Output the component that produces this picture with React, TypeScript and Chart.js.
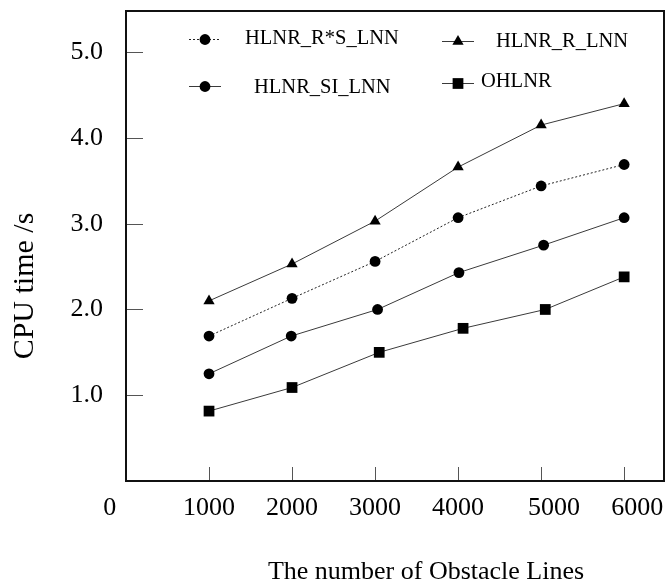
import React, { useEffect, useRef } from 'react';
import { Chart, registerables } from 'chart.js';

Chart.register(...registerables);

const FONT = '"Liberation Serif", "Times New Roman", serif';

// ---- data ----
const seriesNames = ['HLNR_R*S_LNN', 'HLNR_SI_LNN', 'HLNR_R_LNN', 'OHLNR'];

const xRS = [1000, 2000, 3000, 4000, 5000, 6000];
const yRS = [1.69, 2.13, 2.56, 3.07, 3.44, 3.69];

const xSI = [1000, 1990, 3030, 4010, 5030, 6000];
const ySI = [1.25, 1.69, 2.0, 2.43, 2.75, 3.07];

const xR = [1000, 2000, 3000, 4000, 5000, 6000];
const yR = [2.1, 2.53, 3.03, 3.66, 4.15, 4.4];

const xO = [1000, 2000, 3050, 4060, 5050, 6000];
const yO = [0.815, 1.09, 1.5, 1.78, 2.0, 2.38];

const xTickValues = [0, 1000, 2000, 3000, 4000, 5000, 6000];
const xTickLabels = ['0', '1000', '2000', '3000', '4000', '5000', '6000'];
const yTickValues = [1, 2, 3, 4, 5];
const yTickLabels = ['1.0', '2.0', '3.0', '4.0', '5.0'];

const xTitle = 'The number of Obstacle Lines';
const yTitle = 'CPU time /s';

// label nudges (spaces) to mimic the reference's placement
const xLabelPad: Record<string, [number, number]> = {
  '0': [0, 5],
  '5000': [4, 0],
  '6000': [4, 0],
};

const toPoints = (xs: number[], ys: number[]) => xs.map((x, i) => ({ x, y: ys[i] }));

type Marker = 'circle' | 'triangle' | 'rect';

function drawMarker(ctx: CanvasRenderingContext2D, style: Marker, x: number, y: number, r: number) {
  ctx.beginPath();
  if (style === 'circle') {
    ctx.arc(x, y, r, 0, Math.PI * 2);
  } else if (style === 'triangle') {
    for (let k = 0; k < 3; k++) {
      const a = (k * 2 * Math.PI) / 3;
      const px = x + Math.sin(a) * r;
      const py = y - Math.cos(a) * r;
      if (k === 0) ctx.moveTo(px, py);
      else ctx.lineTo(px, py);
    }
    ctx.closePath();
  } else {
    const s = Math.SQRT1_2 * r;
    ctx.rect(x - s, y - s, 2 * s, 2 * s);
  }
  ctx.fillStyle = '#000';
  ctx.fill();
}

const legendLayout = [
  { ds: 0, lx: 189, ly: 39.5, tx: 245, ty: 38.5 },
  { ds: 1, lx: 189, ly: 86.5, tx: 254, ty: 87.5 },
  { ds: 2, lx: 442, ly: 41.5, tx: 496, ty: 42 },
  { ds: 3, lx: 442, ly: 83.5, tx: 481, ty: 81.5 },
];

const framePlugin = {
  id: 'frameAndText',
  afterDraw(chart: any) {
    const { ctx, chartArea: a, scales } = chart;
    const xs = scales.x;
    const ys = scales.y;
    ctx.save();
    // inner ticks
    ctx.strokeStyle = '#555';
    ctx.lineWidth = 1;
    ctx.beginPath();
    yTickValues.forEach((v) => {
      const py = Math.round(ys.getPixelForValue(v)) + 0.5;
      ctx.moveTo(a.left, py);
      ctx.lineTo(a.left + 17, py);
    });
    xTickValues.forEach((v) => {
      if (v === 0) return;
      const px = Math.round(xs.getPixelForValue(v)) + 0.5;
      ctx.moveTo(px, a.bottom);
      ctx.lineTo(px, a.bottom - 14);
    });
    ctx.stroke();
    // frame
    ctx.strokeStyle = '#111';
    ctx.lineWidth = 2;
    ctx.strokeRect(a.left, a.top, a.right - a.left, a.bottom - a.top);

    // axis titles
    ctx.fillStyle = '#000';
    ctx.font = `26px ${FONT}`;
    ctx.textAlign = 'center';
    ctx.textBaseline = 'middle';
    ctx.fillText(xTitle, (a.left + a.right) / 2 + 31, a.bottom + 91);
    ctx.save();
    ctx.font = `30px ${FONT}`;
    ctx.translate(25, (a.top + a.bottom) / 2 + 40);
    ctx.rotate(-Math.PI / 2);
    ctx.fillText(yTitle, 0, 0);
    ctx.restore();

    // legend
    legendLayout.forEach((it) => {
      const ds = chart.data.datasets[it.ds];
      ctx.strokeStyle = ds.borderColor;
      ctx.lineWidth = 1;
      ctx.setLineDash(ds.borderDash || []);
      ctx.beginPath();
      ctx.moveTo(it.lx, it.ly);
      ctx.lineTo(it.lx + 32, it.ly);
      ctx.stroke();
      ctx.setLineDash([]);
      drawMarker(ctx, ds.pointStyle, it.lx + 16, it.ly, ds.pointRadius);
      ctx.fillStyle = '#000';
      ctx.font = `20.5px ${FONT}`;
      ctx.textAlign = 'left';
      ctx.textBaseline = 'middle';
      ctx.fillText(ds.label, it.tx, it.ty);
    });
    ctx.restore();
  },
};

export default function App() {
  const ref = useRef<HTMLCanvasElement | null>(null);

  useEffect(() => {
    if (!ref.current) return;
    const line = '#3a3a3a';
    const common = {
      borderColor: line,
      borderWidth: 1,
      pointBackgroundColor: '#000',
      pointBorderColor: '#000',
      pointBorderWidth: 0,
      fill: false,
      tension: 0,
    };
    const chart = new Chart(ref.current, {
      type: 'line',
      data: {
        datasets: [
          { ...common, label: seriesNames[0], data: toPoints(xRS, yRS), borderDash: [2, 2], borderColor: '#222', pointStyle: 'circle', pointRadius: 5.4 },
          { ...common, label: seriesNames[1], data: toPoints(xSI, ySI), pointStyle: 'circle', pointRadius: 5.4 },
          { ...common, label: seriesNames[2], data: toPoints(xR, yR), pointStyle: 'triangle', pointRadius: 6.5 },
          { ...common, label: seriesNames[3], data: toPoints(xO, yO), pointStyle: 'rect', pointRadius: 7.6 },
        ] as any,
      },
      options: {
        animation: false,
        responsive: false,
        devicePixelRatio: 1,
        layout: { autoPadding: false, padding: { top: 11, right: 3, left: 0, bottom: 0 } },
        plugins: { legend: { display: false }, tooltip: { enabled: false } },
        scales: {
          x: {
            type: 'linear',
            min: 0,
            max: 6480,
            afterBuildTicks: (s: any) => {
              s.ticks = xTickValues.map((value) => ({ value }));
            },
            afterFit: (s: any) => {
              s.height = 106;
              s.paddingLeft = 0;
              s.paddingRight = 0;
              s.paddingTop = 0;
              s.paddingBottom = 0;
            },
            grid: { display: false },
            border: { display: false },
            ticks: {
              autoSkip: false,
              maxRotation: 0,
              padding: 4,
              color: '#000',
              font: { family: FONT, size: 26 },
              callback: (value: any) => {
                const i = xTickValues.indexOf(Number(value));
                const lab = i >= 0 ? xTickLabels[i] : '';
                const pad = xLabelPad[lab] || [0, 0];
                return ' '.repeat(pad[0]) + lab + ' '.repeat(pad[1]);
              },
            },
          },
          y: {
            type: 'linear',
            min: 0,
            max: 5.48,
            afterBuildTicks: (s: any) => {
              s.ticks = yTickValues.map((value) => ({ value }));
            },
            afterFit: (s: any) => {
              s.width = 126;
              s.paddingLeft = 0;
              s.paddingRight = 0;
              s.paddingTop = 0;
              s.paddingBottom = 0;
            },
            grid: { display: false },
            border: { display: false },
            ticks: {
              padding: 15,
              color: '#000',
              font: { family: FONT, size: 26 },
              callback: (value: any) => {
                const i = yTickValues.indexOf(Number(value));
                return i >= 0 ? yTickLabels[i] : '';
              },
            },
          },
        },
      } as any,
      plugins: [framePlugin],
    });
    return () => chart.destroy();
  }, []);

  return (
    <div style={{ position: 'absolute', left: 0, top: 0, width: 667, height: 587, background: '#fff' }}>
      <canvas ref={ref} width={667} height={587} style={{ display: 'block', width: 667, height: 587 }} />
    </div>
  );
}
